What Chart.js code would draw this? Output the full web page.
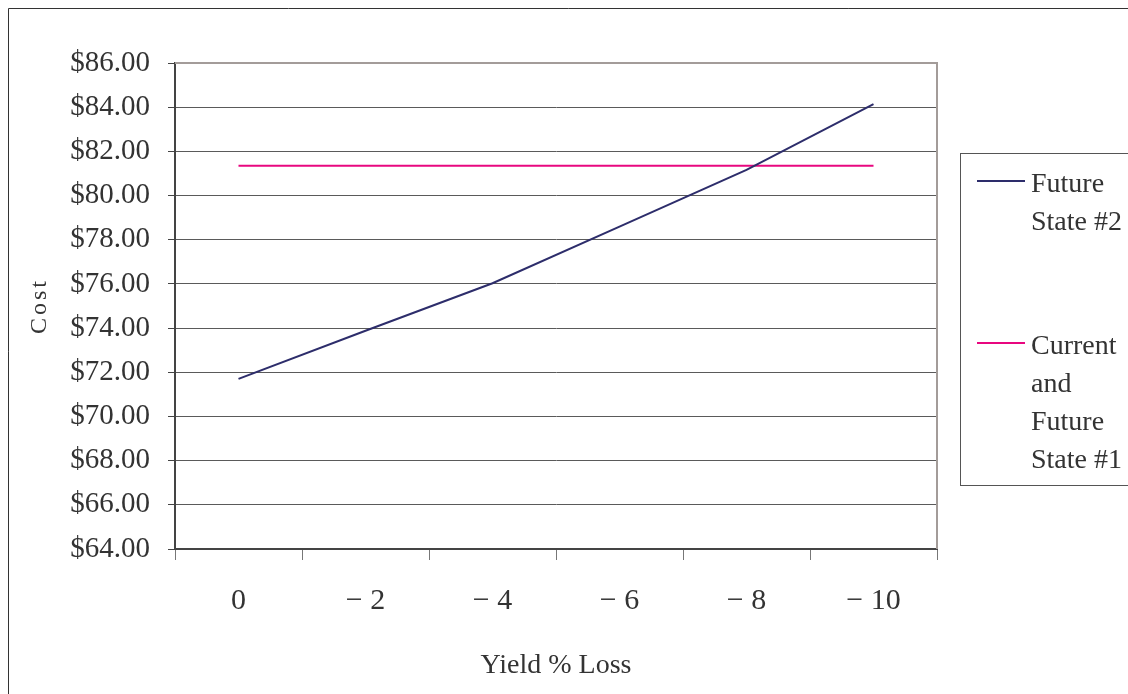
<!DOCTYPE html>
<html><head><meta charset="utf-8">
<script src="https://cdn.jsdelivr.net/npm/chart.js@4.4.1/dist/chart.umd.min.js"></script>
<style>html,body{margin:0;padding:0;background:#fff;} canvas{display:block;}</style>
</head><body>
<canvas id="c" width="1128" height="694"></canvas>
<script>
const categories = ["0", "\u2212 2", "\u2212 4", "\u2212 6", "\u2212 8", "\u2212 10"];
const futureState2 = [71.70, 73.88, 76.03, 78.59, 81.16, 84.14];
const currentAndFutureState1 = [81.35, 81.35, 81.35, 81.35, 81.35, 81.35];
const yMin = 64, yMax = 86, yStep = 2;
const seriesNames = ["Future State #2", "Current and Future State #1"];
const legendLines = [["Future", "State #2"], ["Current", "and", "Future", "State #1"]];
const seriesColors = ["#2d2d6b", "#e8077f"];
const xTitle = "Yield % Loss";
const yTitle = "Cost";

const FONT = "'Liberation Serif', 'Times New Roman', serif";
const TXT = "#333333";

const framePlugin = {
  id: 'frame',
  beforeDraw(chart) {
    const ctx = chart.ctx;
    ctx.save();
    ctx.fillStyle = '#fff';
    ctx.fillRect(0, 0, chart.width, chart.height);
    ctx.strokeStyle = '#333';
    ctx.lineWidth = 1;
    ctx.beginPath();
    ctx.moveTo(8.5, chart.height);
    ctx.lineTo(8.5, 8.5);
    ctx.lineTo(chart.width, 8.5);
    ctx.stroke();
    ctx.restore();
  },
  beforeDatasetsDraw(chart) {
    const ctx = chart.ctx;
    const {left, top, right, bottom} = chart.chartArea;
    ctx.save();
    ctx.strokeStyle = '#a39c99';
    ctx.lineWidth = 2;
    ctx.beginPath();
    ctx.moveTo(left, top);
    ctx.lineTo(right, top);
    ctx.lineTo(right, bottom);
    ctx.stroke();
    ctx.restore();
  },
  afterDraw(chart) {
    const ctx = chart.ctx;
    ctx.save();
    ctx.strokeStyle = '#555';
    ctx.lineWidth = 1;
    ctx.strokeRect(960.5, 153.5, 250, 332);
    const sampleY = [181, 343];
    ctx.font = "28px " + FONT;
    ctx.fillStyle = TXT;
    ctx.textBaseline = 'middle';
    ctx.textAlign = 'left';
    chart.data.datasets.forEach((ds, i) => {
      ctx.strokeStyle = ds.borderColor;
      ctx.lineWidth = 2;
      ctx.beginPath();
      ctx.moveTo(977, sampleY[i]);
      ctx.lineTo(1025, sampleY[i]);
      ctx.stroke();
      legendLines[i].forEach((t, j) => {
        ctx.fillText(t, 1031, sampleY[i] + 4 + j * 38);
      });
    });
    ctx.restore();
  }
};

new Chart(document.getElementById('c'), {
  type: 'line',
  data: {
    labels: categories,
    datasets: [
      { label: seriesNames[0], data: futureState2, borderColor: seriesColors[0], borderWidth: 2, pointRadius: 0, tension: 0, fill: false },
      { label: seriesNames[1], data: currentAndFutureState1, borderColor: seriesColors[1], borderWidth: 2, pointRadius: 0, tension: 0, fill: false }
    ]
  },
  options: {
    responsive: false,
    animation: false,
    devicePixelRatio: 1,
    layout: { padding: { left: 0, top: 63, right: 191, bottom: 0 } },
    plugins: { legend: { display: false }, tooltip: { enabled: false } },
    scales: {
      x: {
        type: 'category',
        offset: true,
        grid: { offset: true, drawOnChartArea: false, drawTicks: true, tickLength: 11, tickColor: '#777', lineWidth: 1 },
        border: { display: true, color: '#444', width: 2 },
        ticks: { font: { family: FONT, size: 30 }, color: TXT, padding: 23, maxRotation: 0, autoSkip: false },
        title: { display: true, text: xTitle, font: { family: FONT, size: 28 }, color: TXT, padding: { top: 0, bottom: 12 } },
        afterFit(scale) { scale.height = 145; }
      },
      y: {
        min: yMin, max: yMax,
        grid: { color: '#5a5a5a', lineWidth: 1, tickLength: 7, tickColor: '#444' },
        border: { display: true, color: '#444', width: 2 },
        ticks: { stepSize: yStep, font: { family: FONT, size: 29 }, color: TXT, padding: 18,
          callback: v => '$' + Number(v).toFixed(2) },
        title: { display: true, text: yTitle, font: { family: FONT, size: 24 }, color: TXT, padding: { top: 25, bottom: 0 } },
        afterFit(scale) {
          scale.width = 175;
          if (!scale._spacedTitle) {
            const orig = scale.drawTitle.bind(scale);
            scale.drawTitle = function () {
              this.ctx.save();
              this.ctx.letterSpacing = '3px';
              orig();
              this.ctx.restore();
            };
            scale._spacedTitle = true;
          }
        }
      }
    }
  },
  plugins: [framePlugin]
});
</script>
</body></html>
